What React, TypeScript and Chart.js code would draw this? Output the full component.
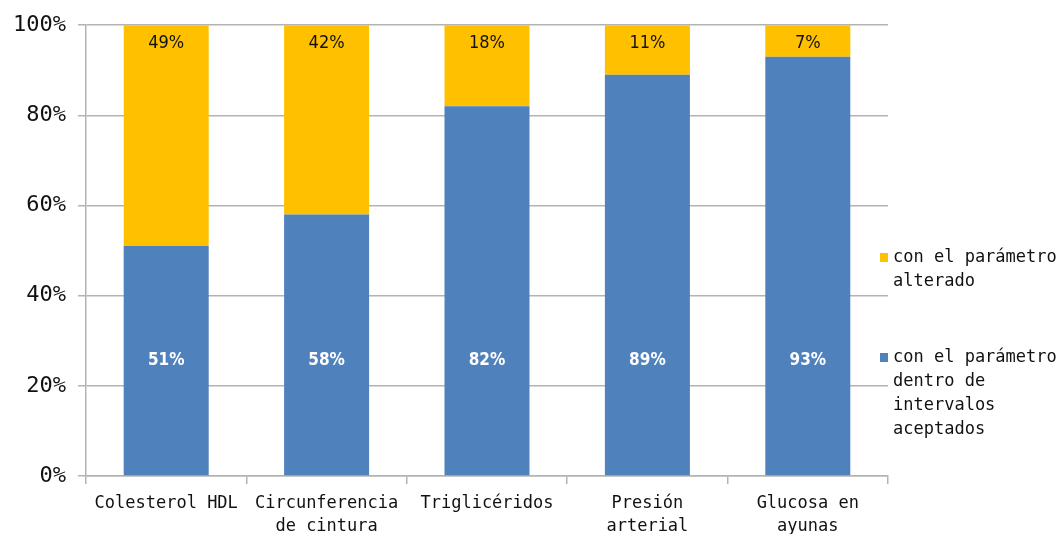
import React, { useEffect, useRef } from "react";
import { Chart, registerables } from "chart.js";

Chart.register(...registerables);

const categories: (string | string[])[] = [
  "Colesterol HDL",
  ["Circunferencia", "de cintura"],
  "Triglicéridos",
  ["Presión", "arterial"],
  ["Glucosa en", "ayunas"],
];
const withinValues = [51, 58, 82, 89, 93];
const alteredValues = [49, 42, 18, 11, 7];
const yTicks = [0, 20, 40, 60, 80, 100];
const withinLabel = ["con el parámetro", "dentro de", "intervalos", "aceptados"];
const alteredLabel = ["con el parámetro", "alterado"];

const BLUE = "#4F81BD";
const ORANGE = "#FFC000";
const MONO = '"DejaVu Sans Mono", monospace';
const LABEL_FONT = '"DejaVu Sans Condensed", "DejaVu Sans", sans-serif';

const labelsPlugin = {
  id: "customLabels",
  afterDatasetsDraw(chart: any) {
    const ctx = chart.ctx;
    const y = chart.scales.y;
    ctx.save();
    ctx.textAlign = "center";
    ctx.textBaseline = "middle";
    const m0 = chart.getDatasetMeta(0);
    m0.data.forEach((bar: any, i: number) => {
      ctx.font = `bold 17px ${LABEL_FONT}`;
      ctx.fillStyle = "#ffffff";
      ctx.fillText(withinValues[i] + "%", bar.x, y.getPixelForValue(25.5));
    });
    const m1 = chart.getDatasetMeta(1);
    m1.data.forEach((bar: any, i: number) => {
      ctx.font = `18px ${LABEL_FONT}`;
      ctx.fillStyle = "#111111";
      ctx.fillText(alteredValues[i] + "%", bar.x, y.getPixelForValue(96));
    });
    ctx.restore();
  },
  afterDraw(chart: any) {
    const ctx = chart.ctx;
    ctx.save();
    ctx.font = `17px ${MONO}`;
    ctx.textAlign = "left";
    ctx.textBaseline = "middle";
    const items = [
      { color: ORANGE, lines: alteredLabel, top: 258 },
      { color: BLUE, lines: withinLabel, top: 358 },
    ];
    items.forEach((it) => {
      ctx.fillStyle = it.color;
      ctx.fillRect(880, it.top - 5, 8, 9);
      ctx.fillStyle = "#111111";
      it.lines.forEach((ln, k) => {
        ctx.fillText(ln, 893, it.top + k * 24);
      });
    });
    ctx.restore();
  },
};

export default function App() {
  const ref = useRef<HTMLCanvasElement>(null);
  useEffect(() => {
    const chart = new Chart(ref.current!, {
      type: "bar",
      data: {
        labels: categories,
        datasets: [
          {
            label: withinLabel.join(" "),
            data: withinValues,
            backgroundColor: BLUE,
            barPercentage: 0.53,
            categoryPercentage: 1,
          },
          {
            label: alteredLabel.join(" "),
            data: alteredValues,
            backgroundColor: ORANGE,
            barPercentage: 0.53,
            categoryPercentage: 1,
          },
        ],
      },
      options: {
        animation: false,
        responsive: false,
        maintainAspectRatio: false,
        layout: { padding: { left: 0, right: 174, top: 25, bottom: 0 } },
        plugins: { legend: { display: false }, tooltip: { enabled: false } },
        scales: {
          x: {
            stacked: true,
            afterFit: (s: any) => {
              s.height = 58;
            },
            grid: {
              offset: true,
              drawOnChartArea: false,
              drawTicks: true,
              tickLength: 8,
              color: "#b3b3b3",
              lineWidth: 1.5,
            },
            border: { color: "#b3b3b3", width: 1.5 },
            ticks: {
              font: { family: MONO, size: 17, lineHeight: 1.35 },
              color: "#111111",
              padding: 8,
              maxRotation: 0,
              autoSkip: false,
            },
          },
          y: {
            stacked: true,
            min: 0,
            max: 100,
            afterFit: (s: any) => {
              s.width = 86;
            },
            afterBuildTicks: (s: any) => {
              s.ticks = yTicks.map((v) => ({ value: v }));
            },
            grid: {
              color: "#b3b3b3",
              lineWidth: 1.5,
              tickLength: 8,
            },
            border: { color: "#b3b3b3", width: 1.5 },
            ticks: {
              font: { family: MONO, size: 22 },
              color: "#111111",
              padding: 12,
              callback: (v: any) => v + "%",
            },
          },
        },
      },
      plugins: [labelsPlugin],
    });
    return () => chart.destroy();
  }, []);
  return (
    <div style={{ position: "absolute", left: 0, top: 0, width: 1062, height: 534 }}>
      <canvas ref={ref} width={1062} height={534} />
    </div>
  );
}
